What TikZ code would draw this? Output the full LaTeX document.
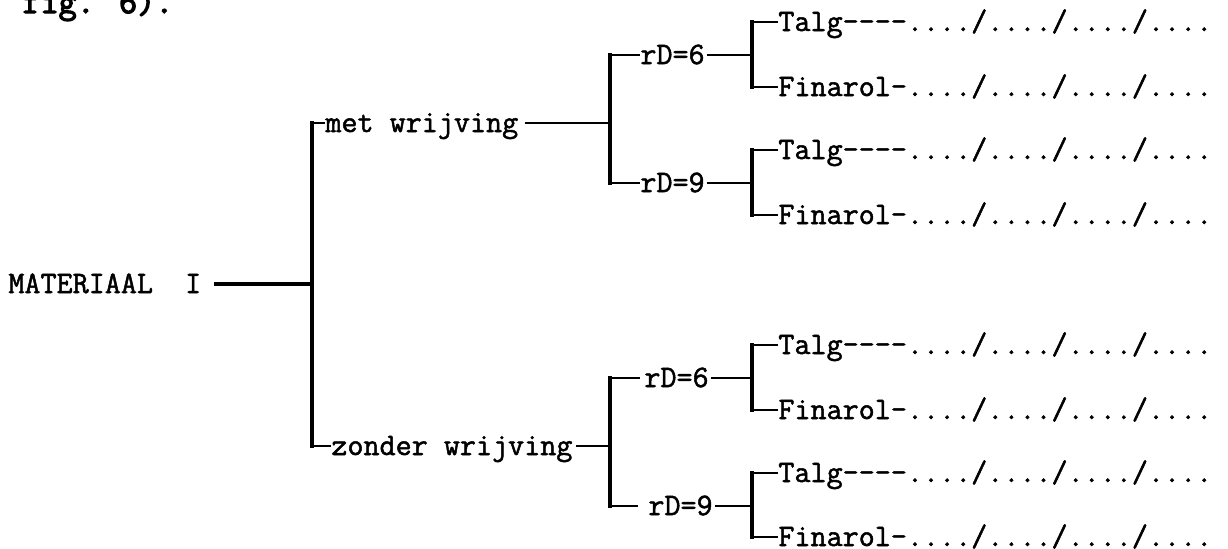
\documentclass[tikz,border=0pt]{standalone}
\usepackage{fontspec}
\setmonofont{Latin Modern Mono}[FakeBold=1.6]
\newfontfamily\figfont{Latin Modern Mono}[FakeBold=3.5]
\begin{document}
\begin{tikzpicture}[x=0.5pt,y=-0.5pt,
  lbl/.style={anchor=west,inner sep=0pt,text height=9pt,text depth=0pt,
              font=\fontsize{15.6}{18}\selectfont\ttfamily},
  brk/.style={line width=1.9pt,line cap=rect},
  hl/.style={line width=1.3pt},
  hlthick/.style={line width=2pt}]
\useasboundingbox (0,0) rectangle (1228,548);

% caption (cut at the top)
\node[anchor=base west,inner sep=0pt,font=\fontsize{17.6}{20}\selectfont\figfont] (fig) at (22,13) {fig. 6).};

% root
\node[lbl] (mat) at (8,284) {MATERIAAL\ \ I};
\coordinate (j0) at (312,284);
\coordinate (tM) at (312,123);
\coordinate (tZ) at (312,446);
\draw[hlthick] ([xshift=6pt]mat.east) -- (j0);
\draw[brk] (tM) -- (tZ);

% level 1
\node[lbl] (met) at (325,123) {met wrijving};
\node[lbl] (zon) at (331,446) {zonder wrijving};
\draw[hl] (tM) -- (met.west);
\draw[hl] (tZ) -- (zon.west);
\coordinate (bM) at (610,123);
\coordinate (bZ) at (610,446);
\draw[hl] ([xshift=3pt]met.east) -- (bM);
\draw[hl] ([xshift=1.5pt]zon.east) -- (bZ);

% level 2
\node[lbl] (rA) at (640,55) {rD=6};
\node[lbl] (rB) at (640,183) {rD=9};
\node[lbl] (rC) at (644,378) {rD=6};
\node[lbl] (rD) at (648,506) {rD=9};
\coordinate (bMt) at (610,55);
\coordinate (bMb) at (610,183);
\coordinate (bZt) at (610,378);
\coordinate (bZb) at (610,506);
\draw[brk] (bMt) -- (bMb);
\draw[brk] (bZt) -- (bZb);
\draw[hl] (bMt) -- (rA.west);
\draw[hl] (bMb) -- (rB.west);
\draw[hl] (bZt) -- ([xshift=-2pt]rC.west);
\draw[hl] (bZb) -- ([xshift=-5pt]rD.west);

% level 3 brackets
\coordinate (cA) at (752,55);
\coordinate (cB) at (752,183);
\coordinate (cC) at (752,378);
\coordinate (cD) at (752,506);
\draw[hl] ([xshift=1pt]rA.east) -- (cA);
\draw[hl] ([xshift=1pt]rB.east) -- (cB);
\draw[hl] ([xshift=1pt]rC.east) -- (cC);
\draw[hl] ([xshift=1pt]rD.east) -- (cD);

\node[lbl] (t1) at (778,22)  {Talg----..../..../..../....};
\node[lbl] (f1) at (778,87)  {Finarol-..../..../..../....};
\node[lbl] (t2) at (778,150) {Talg----..../..../..../....};
\node[lbl] (f2) at (778,215) {Finarol-..../..../..../....};
\node[lbl] (t3) at (778,345) {Talg----..../..../..../....};
\node[lbl] (f3) at (778,410) {Finarol-..../..../..../....};
\node[lbl] (t4) at (778,473) {Talg----..../..../..../....};
\node[lbl] (f4) at (778,537) {Finarol-..../..../..../....};

\coordinate (cAt) at (752,22);  \coordinate (cAb) at (752,87);
\coordinate (cBt) at (752,150); \coordinate (cBb) at (752,215);
\coordinate (cCt) at (752,345); \coordinate (cCb) at (752,410);
\coordinate (cDt) at (752,473); \coordinate (cDb) at (752,537);
\draw[brk] (cAt) -- (cAb);
\draw[brk] (cBt) -- (cBb);
\draw[brk] (cCt) -- (cCb);
\draw[brk] (cDt) -- (cDb);
\draw[hl] (cAt) -- (t1.west);
\draw[hl] (cAb) -- (f1.west);
\draw[hl] (cBt) -- (t2.west);
\draw[hl] (cBb) -- (f2.west);
\draw[hl] (cCt) -- (t3.west);
\draw[hl] (cCb) -- (f3.west);
\draw[hl] (cDt) -- (t4.west);
\draw[hl] (cDb) -- (f4.west);
\end{tikzpicture}
\end{document}
